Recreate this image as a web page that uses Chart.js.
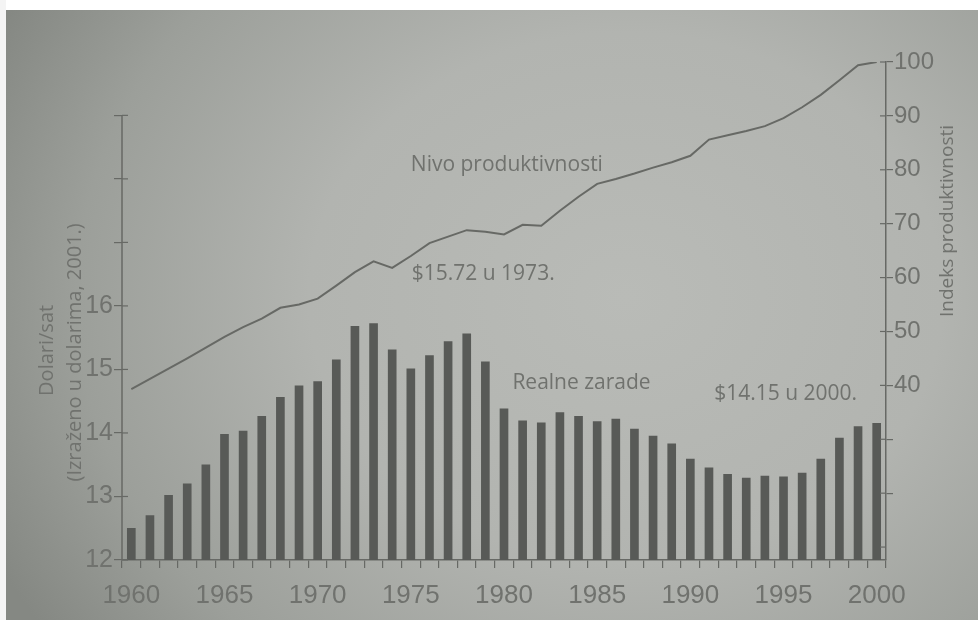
<!DOCTYPE html>
<html>
<head>
<meta charset="utf-8">
<script src="https://cdn.jsdelivr.net/npm/chart.js@4.4.1/dist/chart.umd.min.js"></script>
<style>
  html, body { margin: 0; padding: 0; background: #ffffff; }
  #wrap {
    position: relative; width: 978px; height: 620px; overflow: hidden;
    background: radial-gradient(ellipse 72% 95% at 64% 48%, #b9bbb7 0%, #b2b4b0 45%, #9c9f9a 78%, #858883 100%);
  }
  #topband { position: absolute; left: 0; top: 0; width: 978px; height: 10px; background: #ffffff; }
  #leftband { position: absolute; left: 0; top: 0; width: 6px; height: 620px; background: #f4f4f4; }
  canvas { position: absolute; left: 0; top: 0; }
</style>
</head>
<body>
<div id="wrap">
  <canvas id="c" width="978" height="620"></canvas>
  <div id="topband"></div>
  <div id="leftband"></div>
</div>
<script>
// ---- data ----
const years = [1960,1961,1962,1963,1964,1965,1966,1967,1968,1969,
               1970,1971,1972,1973,1974,1975,1976,1977,1978,1979,
               1980,1981,1982,1983,1984,1985,1986,1987,1988,1989,
               1990,1991,1992,1993,1994,1995,1996,1997,1998,1999,2000];
// Realne zarade (dolari/sat, 2001.)
const realWages = [12.50,12.70,13.02,13.20,13.50,13.98,14.03,14.26,14.56,14.74,
                   14.81,15.15,15.68,15.72,15.31,15.01,15.22,15.44,15.56,15.12,
                   14.38,14.19,14.16,14.32,14.26,14.18,14.22,14.06,13.95,13.83,
                   13.59,13.45,13.35,13.29,13.32,13.31,13.37,13.59,13.92,14.10,14.15];
// Indeks produktivnosti
const productivityIndex = [39.3,41.2,43.1,45.0,47.0,49.0,50.8,52.4,54.4,55.0,
                           56.1,58.5,61.0,63.0,61.8,64.0,66.4,67.6,68.8,68.5,
                           68.0,69.8,69.6,72.4,75.0,77.4,78.3,79.3,80.4,81.4,
                           82.6,85.6,86.4,87.2,88.1,89.6,91.6,93.9,96.6,99.4,100.0];
const yearLabels = [1960,1965,1970,1975,1980,1985,1990,1995,2000];
const wageTickLabels = [12,13,14,15,16];
const indexTickLabels = [40,50,60,70,80,90,100];

const leftTitle = ['Dolari/sat', '(Izraženo u dolarima, 2001.)'];
const rightTitle = 'Indeks produktivnosti';
const notes = [
  { text: 'Nivo produktivnosti', at: 15.0, axis: 'yL', value: 18.22, align: 'left' },
  { text: '$15.72 u 1973.', at: 15.05, axis: 'yL', value: 16.5, align: 'left' },
  { text: 'Realne zarade', at: 20.45, axis: 'yL', value: 14.79, align: 'left' },
  { text: '$14.15 u 2000.', at: 38.95, axis: 'yL', value: 14.61, align: 'right' }
];

const ink = '#70726e';
const axisInk = '#676965';
const tickFont = 'Liberation Sans, Arial, sans-serif';
const textFont = '"Open Sans", "Noto Sans", sans-serif';

const decor = {
  id: 'decor',
  afterDraw(chart) {
    const ctx = chart.ctx;
    const ca = chart.chartArea;
    const yL = chart.scales.yL, yR = chart.scales.yR, x = chart.scales.x;
    ctx.save();
    // left axis line from 12 to 19
    ctx.strokeStyle = axisInk;
    ctx.lineWidth = 1.5;
    ctx.beginPath();
    ctx.moveTo(ca.left, yL.getPixelForValue(12));
    ctx.lineTo(ca.left, yL.getPixelForValue(19));
    ctx.stroke();
    // inner halves of the y ticks
    ctx.lineWidth = 1.2;
    for (let v = 12; v <= 19; v++) {
      const py = yL.getPixelForValue(v);
      ctx.beginPath(); ctx.moveTo(ca.left, py); ctx.lineTo(ca.left + 6, py); ctx.stroke();
    }
    for (let v = 10; v <= 100; v += 10) {
      const py = yR.getPixelForValue(v);
      ctx.beginPath(); ctx.moveTo(ca.right - 6, py); ctx.lineTo(ca.right, py); ctx.stroke();
    }
    // notes
    ctx.fillStyle = ink;
    ctx.font = '21px ' + textFont;
    ctx.textBaseline = 'middle';
    notes.forEach(n => {
      const px = x.getPixelForValue(n.at);
      const py = chart.scales[n.axis].getPixelForValue(n.value);
      ctx.textAlign = n.align;
      ctx.fillText(n.text, px, py);
    });
    // axis titles
    ctx.font = '20px ' + textFont;
    ctx.textAlign = 'center';
    const midL = yL.getPixelForValue(15.3);
    ctx.save();
    ctx.translate(47, midL);
    ctx.rotate(-Math.PI / 2);
    ctx.fillText(leftTitle[0], 0, 0);
    ctx.restore();
    ctx.save();
    ctx.translate(75, midL + 2);
    ctx.rotate(-Math.PI / 2);
    ctx.fillText(leftTitle[1], 0, 0);
    ctx.restore();
    ctx.font = '19px ' + textFont;
    ctx.save();
    ctx.translate(948, yR.getPixelForValue(70.5));
    ctx.rotate(-Math.PI / 2);
    ctx.fillText(rightTitle, 0, 0);
    ctx.restore();
    ctx.restore();
  }
};

new Chart(document.getElementById('c'), {
  type: 'bar',
  data: {
    labels: years.map(String),
    datasets: [
      {
        type: 'line',
        label: 'Nivo produktivnosti',
        data: productivityIndex,
        yAxisID: 'yR',
        borderColor: '#676965',
        borderWidth: 2,
        pointRadius: 0,
        tension: 0,
        order: 0
      },
      {
        type: 'bar',
        label: 'Realne zarade',
        data: realWages,
        yAxisID: 'yL',
        backgroundColor: '#585a57',
        barThickness: 8,
        order: 1
      }
    ]
  },
  options: {
    responsive: false,
    animation: false,
    layout: { padding: { top: 62, left: 0, right: 0, bottom: 0 } },
    plugins: { legend: { display: false }, tooltip: { enabled: false } },
    scales: {
      x: {
        type: 'category',
        offset: true,
        grid: { display: true, drawOnChartArea: false, tickLength: 8, color: axisInk, lineWidth: 1.2 },
        border: { display: true, color: axisInk, width: 1.5 },
        ticks: {
          autoSkip: false, maxRotation: 0, minRotation: 0, padding: 12,
          font: { family: tickFont, size: 26 }, color: ink,
          callback: (v, i) => yearLabels.includes(years[i]) ? String(years[i]) : ''
        },
        afterFit: s => { s.height = 60; }
      },
      yL: {
        type: 'linear', position: 'left', min: 12, max: 19.84,
        grid: { display: true, drawOnChartArea: false, tickLength: 8, color: axisInk, lineWidth: 1.2 },
        border: { display: false },
        ticks: {
          stepSize: 1, padding: 1,
          font: { family: tickFont, size: 25 }, color: ink,
          callback: v => wageTickLabels.includes(v) ? String(v) : ''
        },
        afterBuildTicks: s => { s.ticks = s.ticks.filter(t => Number.isInteger(t.value) && t.value <= 19); },
        afterFit: s => { s.width = 122; }
      },
      yR: {
        type: 'linear', position: 'right', min: 7.6, max: 100,
        grid: { display: true, drawOnChartArea: false, tickLength: 7, color: axisInk, lineWidth: 1.2 },
        border: { display: true, color: axisInk, width: 1.5 },
        ticks: {
          stepSize: 10, padding: 1,
          font: { family: tickFont, size: 24 }, color: ink,
          callback: v => indexTickLabels.includes(v) ? String(v) : ''
        },
        afterBuildTicks: s => { s.ticks = s.ticks.filter(t => t.value >= 10 && Math.abs(t.value % 10) < 1e-9); },
        afterFit: s => { s.width = 92; }
      }
    }
  },
  plugins: [decor]
});
</script>
</body>
</html>
